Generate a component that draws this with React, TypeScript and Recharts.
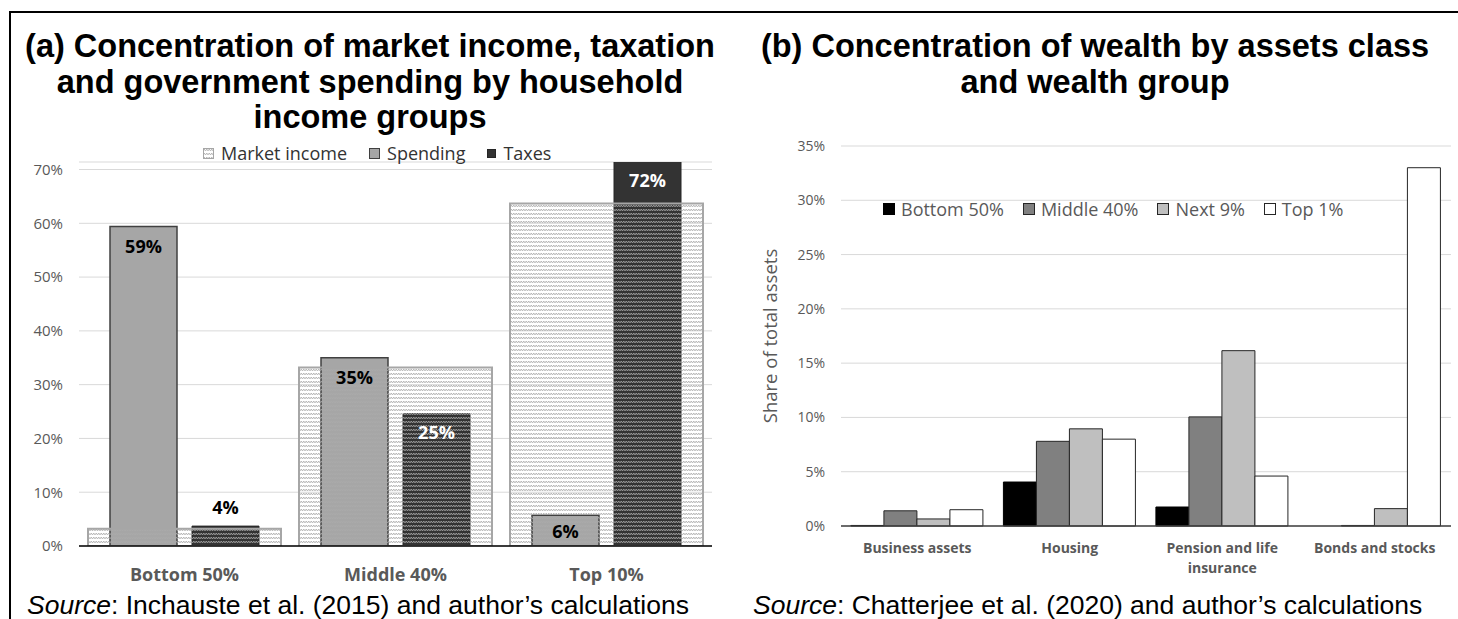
import React from "react";
import { BarChart, Bar, XAxis, YAxis, CartesianGrid, LabelList, Text } from "recharts";

const UI_FONT = "'Open Sans', 'Noto Sans', sans-serif";
const TITLE_FONT = "'Liberation Sans', Arial, sans-serif";
const AXIS_GREY = "#595959";

// panel (a): shares by household income group
const INCOME_GROUPS = ["Bottom 50%", "Middle 40%", "Top 10%"];
const MARKET_INCOME = [0.032, 0.332, 0.637];
const SPENDING = [0.594, 0.35, 0.057];
const TAXES = [0.037, 0.246, 0.72];
const TICKS_A = [0, 0.1, 0.2, 0.3, 0.4, 0.5, 0.6, 0.7];

// panel (b): share of total assets by wealth group
const ASSET_CLASSES = ["Business assets", "Housing", "Pension and life insurance", "Bonds and stocks"];
const BOTTOM_50 = [0.0005, 0.0405, 0.0175, 0];
const MIDDLE_40 = [0.014, 0.078, 0.1005, 0.0005];
const NEXT_9 = [0.0065, 0.0895, 0.1615, 0.016];
const TOP_1 = [0.015, 0.08, 0.046, 0.33];
const TICKS_B = [0, 0.05, 0.1, 0.15, 0.2, 0.25, 0.3, 0.35];

const dataA = INCOME_GROUPS.map((name, i) => ({
  name, market: MARKET_INCOME[i], spending: SPENDING[i], taxes: TAXES[i],
}));
const dataB = ASSET_CLASSES.map((name, i) => ({
  name, b50: BOTTOM_50[i], m40: MIDDLE_40[i], n9: NEXT_9[i], t1: TOP_1[i],
}));

const pct = (v: number) => `${Math.round(v * 100)}%`;

const A_TOP = 162;

const box = (p: any) => (p.viewBox && p.viewBox.width !== undefined ? p.viewBox : p);

function SpendingLabel(p: any) {
  const { x, y, width, height } = box(p);
  const cy = Math.min(y + 19, y + height / 2);
  return (
    <text x={x + width / 2} y={cy} textAnchor="middle" dominantBaseline="central"
      fontFamily={UI_FONT} fontSize={18} fontWeight={700} fill="#000">
      {pct(p.value)}
    </text>
  );
}

function TaxLabel(p: any) {
  const { x, y, width, height } = box(p);
  const inside = height > 60;
  const top = Math.max(y, A_TOP);
  return (
    <text x={x + width / 2} y={inside ? top + 18 : y - 19} textAnchor="middle" dominantBaseline="central"
      fontFamily={UI_FONT} fontSize={18} fontWeight={700} fill={inside ? "#fff" : "#000"}>
      {pct(p.value)}
    </text>
  );
}

function AssetTick(props: any) {
  const { x, y, payload } = props;
  return (
    <Text x={x} y={y + 9} width={145} textAnchor="middle" verticalAnchor="start" lineHeight={20}
      style={{ fontFamily: UI_FONT, fontSize: 14, fontWeight: 700 }} fill={AXIS_GREY}>
      {payload.value}
    </Text>
  );
}

function Swatch({ fill, stroke, size }: { fill: string; stroke: string; size: number }) {
  return (
    <svg width={size} height={size} style={{ display: "block" }}>
      <rect x={0.5} y={0.5} width={size - 1} height={size - 1} fill={fill} stroke={stroke} strokeWidth={1} />
    </svg>
  );
}

const LEGEND_A = [
  { label: "Market income", fill: "url(#zigzag)", stroke: "#a6a6a6", size: 11 },
  { label: "Spending", fill: "#a6a6a6", stroke: "#404040", size: 11 },
  { label: "Taxes", fill: "#333333", stroke: "#262626", size: 9 },
];
const LEGEND_B = [
  { label: "Bottom 50%", fill: "#000000", stroke: "#000000", size: 12 },
  { label: "Middle 40%", fill: "#808080", stroke: "#262626", size: 12 },
  { label: "Next 9%", fill: "#bfbfbf", stroke: "#262626", size: 12 },
  { label: "Top 1%", fill: "#ffffff", stroke: "#262626", size: 12 },
];

function LegendRow({ items, left, top, gap, space, color }: any) {
  return (
    <div style={{ position: "absolute", left, top, display: "flex", alignItems: "center", fontFamily: UI_FONT, fontSize: 18, color, lineHeight: "24px", whiteSpace: "nowrap" }}>
      {items.map((it: any) => (
        <div key={it.label} style={{ display: "flex", alignItems: "center", marginRight: space }}>
          <Swatch fill={it.fill} stroke={it.stroke} size={it.size} />
          <span style={{ marginLeft: gap }}>{it.label}</span>
        </div>
      ))}
    </div>
  );
}

const titleStyle: React.CSSProperties = {
  position: "absolute", top: 29, fontFamily: TITLE_FONT, fontWeight: 700, fontSize: 32.5,
  lineHeight: "35.5px", textAlign: "center", color: "#000", whiteSpace: "nowrap",
};
const sourceStyle: React.CSSProperties = {
  position: "absolute", top: 592, fontFamily: TITLE_FONT, fontSize: 26.5, lineHeight: "26.5px",
  color: "#000", whiteSpace: "nowrap",
};

export default function App() {
  return (
    <div style={{ position: "relative", width: 1458, height: 619, background: "#fff", overflow: "hidden" }}>
      <style>{"body{margin:0}"}</style>
      <svg width={0} height={0} style={{ position: "absolute" }}>
        <defs>
          <pattern id="zigzag" width={5} height={4} patternUnits="userSpaceOnUse">
            <path d="M0 3 L1.25 1 L2.5 3 L3.75 1 L5 3" fill="none" stroke="#ababab" strokeWidth={0.8} />
          </pattern>
        </defs>
      </svg>

      <div style={{ position: "absolute", left: 9, top: 11, right: 0, bottom: 0, borderTop: "2px solid #000", borderLeft: "2px solid #000" }} />

      <div style={{ ...titleStyle, left: 10, width: 720 }}>
        (a) Concentration of market income, taxation<br />
        and government spending by household<br />
        income groups
      </div>
      <div style={{ ...titleStyle, left: 740, width: 710 }}>
        (b) Concentration of wealth by assets class<br />
        and wealth group
      </div>

      <div style={{ position: "absolute", left: 0, top: 0 }}>
        <BarChart width={730} height={619} data={dataA} barGap={15}
          margin={{ top: A_TOP, right: 18, left: 19, bottom: 43 }}>
          <CartesianGrid xAxisId="narrow" vertical={false} stroke="#d9d9d9" />
          <XAxis xAxisId="narrow" dataKey="name" interval={0} height={30} tickLine={false} tickMargin={16}
            axisLine={{ stroke: "#000", strokeWidth: 1.5 }}
            tick={{ fill: AXIS_GREY, fontSize: 18, fontWeight: 700, fontFamily: UI_FONT }} />
          <XAxis xAxisId="wide" dataKey="name" hide />
          <YAxis domain={[0, 0.714]} allowDataOverflow ticks={TICKS_A} tickFormatter={pct} width={60}
            axisLine={false} tickLine={false} tickMargin={10}
            tick={{ fill: AXIS_GREY, fontSize: 15, fontFamily: UI_FONT }} />
          <Bar xAxisId="narrow" dataKey="spending" name="Spending" barSize={67} fill="#a6a6a6"
            stroke="#404040" strokeWidth={1.5} isAnimationActive={false}>
            <LabelList dataKey="spending" content={SpendingLabel} />
          </Bar>
          <Bar xAxisId="narrow" dataKey="taxes" name="Taxes" barSize={67} fill="#333333"
            stroke="#262626" strokeWidth={1} isAnimationActive={false}>
            <LabelList dataKey="taxes" content={TaxLabel} />
          </Bar>
          <Bar xAxisId="wide" dataKey="market" name="Market income" barSize={193} fill="url(#zigzag)"
            stroke="#a6a6a6" strokeWidth={2} isAnimationActive={false} />
        </BarChart>
      </div>
      <LegendRow items={LEGEND_A} left={203} top={141} gap={7} space={22} color="#333333" />

      <div style={{ position: "absolute", left: 730, top: 0 }}>
        <BarChart width={728} height={619} data={dataB} barCategoryGap="6.5%" barGap={0}
          margin={{ top: 146, right: 7, left: 41, bottom: 53 }}>
          <CartesianGrid vertical={false} stroke="#d9d9d9" />
          <XAxis dataKey="name" interval={0} height={40} tickLine={false}
            axisLine={{ stroke: "#404040", strokeWidth: 1.3 }} tick={<AssetTick />} />
          <YAxis domain={[0, 0.35]} ticks={TICKS_B} tickFormatter={pct} width={70}
            axisLine={false} tickLine={false} tickMargin={10}
            tick={{ fill: AXIS_GREY, fontSize: 14, fontFamily: UI_FONT }}
            label={{ value: "Share of total assets", angle: -90, position: "insideLeft", offset: -1,
              style: { textAnchor: "middle", fill: AXIS_GREY, fontSize: 18.5, fontFamily: UI_FONT } }} />
          <Bar dataKey="b50" name="Bottom 50%" fill="#000000" stroke="#000000" strokeWidth={1} isAnimationActive={false} />
          <Bar dataKey="m40" name="Middle 40%" fill="#808080" stroke="#262626" strokeWidth={1} isAnimationActive={false} />
          <Bar dataKey="n9" name="Next 9%" fill="#bfbfbf" stroke="#262626" strokeWidth={1} isAnimationActive={false} />
          <Bar dataKey="t1" name="Top 1%" fill="#ffffff" stroke="#262626" strokeWidth={1} isAnimationActive={false} />
        </BarChart>
      </div>
      <LegendRow items={LEGEND_B} left={883} top={197} gap={6} space={19} color={AXIS_GREY} />

      <div style={{ ...sourceStyle, left: 27 }}>
        <i>Source</i>: Inchauste et al. (2015) and author’s calculations
      </div>
      <div style={{ ...sourceStyle, left: 753 }}>
        <i>Source</i>: Chatterjee et al. (2020) and author’s calculations
      </div>
    </div>
  );
}
